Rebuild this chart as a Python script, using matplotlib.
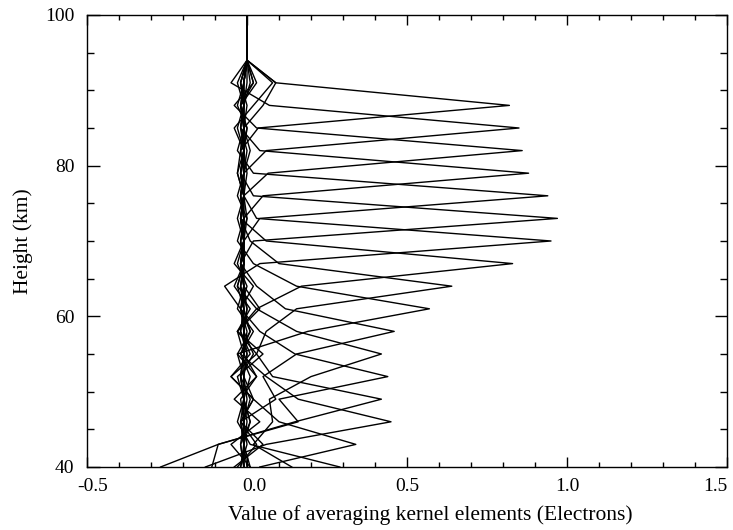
import matplotlib
matplotlib.use("Agg")
import matplotlib.pyplot as plt
import matplotlib.transforms as mtransforms
from matplotlib.ticker import MultipleLocator, FixedLocator, FixedFormatter

plt.rcParams['font.family'] = ['Liberation Serif', 'DejaVu Serif']

# retrieval grid (km)
heights = [40, 43, 46, 49, 52, 55, 58, 61, 64, 67, 70, 73, 76, 79, 82, 85, 88, 91, 94, 97, 100]

# averaging kernel rows, one per nominal height
k40 = [0.29, 0.01, -0.03, -0.01, -0.02, -0.01, -0.01, 0.00, -0.01, -0.01, -0.02, -0.01, -0.01, 0.00, -0.01, -0.01, -0.01, 0.00, 0, 0, 0]
k43 = [0.04, 0.34, 0.10, 0.02, -0.05, 0.01, -0.02, -0.01, -0.02, -0.01, -0.01, -0.02, -0.01, -0.01, 0.00, -0.02, -0.01, -0.01, 0, 0, 0]
k46 = [-0.13, 0.06, 0.45, 0.16, 0.06, -0.02, 0.02, -0.03, -0.01, -0.02, -0.01, -0.01, -0.02, -0.01, -0.01, 0.00, -0.02, 0.03, 0, 0, 0]
k49 = [-0.27, -0.09, 0.15, 0.42, 0.08, 0.03, -0.03, 0.01, -0.04, -0.01, -0.01, -0.02, -0.01, -0.02, -0.01, -0.01, 0.00, -0.02, 0, 0, 0]
k52 = [-0.11, -0.09, 0.16, 0.10, 0.44, 0.15, 0.04, -0.02, 0.00, -0.03, -0.01, -0.01, -0.02, -0.01, -0.01, 0.00, -0.03, -0.01, 0, 0, 0]
k55 = [0.14, 0.02, 0.08, 0.07, 0.20, 0.42, 0.155, 0.03, -0.03, -0.01, -0.02, 0.00, -0.01, -0.02, -0.01, -0.01, -0.01, -0.02, 0, 0, 0]
k58 = [-0.04, 0.05, -0.02, 0.09, 0.05, 0.155, 0.46, 0.12, 0.03, -0.02, -0.01, -0.03, -0.01, -0.01, -0.02, -0.01, -0.01, 0.01, 0, 0, 0]
k61 = [0.01, -0.05, 0.04, -0.04, 0.03, -0.03, 0.19, 0.57, 0.155, 0.02, -0.03, -0.01, -0.02, -0.01, -0.01, -0.02, -0.01, -0.01, 0, 0, 0]
k64 = [-0.03, 0.03, -0.02, 0.02, -0.05, 0.03, 0.06, 0.155, 0.64, 0.10, 0.01, -0.02, -0.01, -0.03, -0.01, -0.01, -0.02, 0.02, 0, 0, 0]
k67 = [-0.01, -0.02, 0.01, -0.01, -0.03, 0.05, -0.03, 0.03, 0.17, 0.83, 0.06, -0.02, -0.01, -0.02, -0.01, -0.03, -0.01, -0.01, 0, 0, 0]
k70 = [0.00, -0.01, -0.02, 0.02, -0.01, -0.03, 0.01, -0.02, -0.07, 0.04, 0.95, 0.03, -0.01, -0.01, -0.02, -0.01, -0.02, -0.01, 0, 0, 0]
k73 = [-0.02, -0.01, -0.01, 0.01, -0.02, -0.01, -0.03, 0.04, -0.01, -0.02, 0.02, 0.97, 0.02, -0.02, -0.01, -0.01, -0.01, -0.02, 0, 0, 0]
k76 = [0.01, -0.01, -0.01, -0.02, 0.03, -0.01, -0.01, -0.02, 0.02, -0.04, -0.01, 0.04, 0.94, 0.02, -0.03, -0.01, -0.02, -0.01, 0, 0, 0]
k79 = [-0.01, -0.01, 0.01, -0.01, -0.02, 0.02, -0.01, -0.01, -0.03, -0.01, -0.02, -0.01, 0.05, 0.88, 0.04, -0.02, -0.01, -0.03, 0, 0, 0]
k82 = [-0.01, -0.02, -0.01, -0.01, 0.01, -0.02, 0.01, -0.01, -0.01, -0.02, -0.01, -0.02, -0.01, 0.066, 0.86, 0.03, -0.04, 0.02, 0, 0, 0]
k85 = [-0.02, 0.00, -0.01, -0.01, -0.01, 0.00, -0.02, -0.01, -0.02, -0.01, -0.01, 0.00, -0.03, -0.01, 0.06, 0.85, 0.07, -0.05, 0, 0, 0]
k88 = [-0.01, -0.01, 0.00, -0.01, -0.02, -0.01, 0.00, -0.02, -0.01, -0.01, -0.01, -0.02, -0.01, -0.03, -0.02, 0.035, 0.82, 0.09, 0, 0, 0]
k91 = [-0.01, -0.01, -0.01, 0.00, -0.01, -0.01, -0.01, 0.00, -0.02, -0.01, -0.01, -0.01, -0.02, -0.01, 0.01, -0.01, 0.05, 0.09, 0, 0, 0]
k94 = [-0.01, -0.01, -0.02, -0.01, -0.01, 0.00, -0.01, -0.01, -0.01, -0.02, -0.01, -0.01, -0.01, -0.02, -0.01, -0.04, 0.02, 0.08, 0, 0, 0]

kernels = [k40, k43, k46, k49, k52, k55, k58, k61, k64, k67, k70, k73, k76, k79, k82, k85, k88, k91, k94]

x_ticks = [-0.5, 0.0, 0.5, 1.0, 1.5]
x_ticklabels = ['-0.5', '0.0', '0.5', '1.0', '1.5']
y_ticks = [40, 60, 80, 100]

fig = plt.figure(figsize=(7.33, 5.30), dpi=100)
ax = fig.add_axes([0.1187, 0.1189, 0.8731, 0.8528])

for k in kernels:
    ax.plot(k, heights, color='black', lw=1.0)

ax.set_xlim(-0.5, 1.5)
ax.set_ylim(40, 100)
ax.xaxis.set_major_locator(FixedLocator(x_ticks))
ax.xaxis.set_major_formatter(FixedFormatter(x_ticklabels))
ax.xaxis.set_minor_locator(MultipleLocator(0.1))
ax.yaxis.set_major_locator(FixedLocator(y_ticks))
ax.yaxis.set_minor_locator(MultipleLocator(5))

ax.tick_params(which='both', direction='in', top=True, right=True, labelsize=14, width=1.0)
ax.tick_params(axis='x', which='major', length=7, pad=8)
ax.tick_params(axis='x', which='minor', length=3.5)
ax.tick_params(axis='y', which='major', length=9, pad=9)
ax.tick_params(axis='y', which='minor', length=5)
for s in ax.spines.values():
    s.set_linewidth(1.0)

# the original nudges the first two labels right and keeps the last one inside
xl = ax.get_xticklabels()
for lab, dx in zip(xl[:2], [6, 7]):
    lab.set_transform(lab.get_transform() + mtransforms.ScaledTranslation(dx / 100, 0, fig.dpi_scale_trans))
xl[-1].set_horizontalalignment('right')
xl[-1].set_x(1.5)

ax.set_xlabel('Value of averaging kernel elements (Electrons)', fontsize=15.5, labelpad=8)
ax.xaxis.set_label_coords(0.536, -0.085)
ax.set_ylabel('Height (km)', fontsize=15.5, labelpad=9)

fig.savefig('out.png', dpi=100)
